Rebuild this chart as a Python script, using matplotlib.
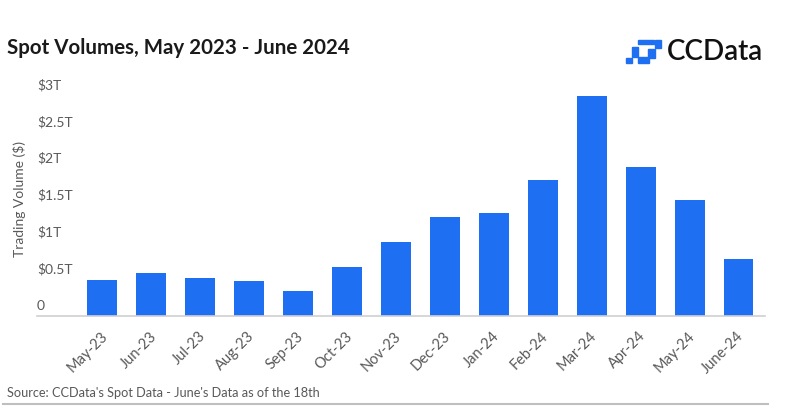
import numpy as np
import matplotlib.pyplot as plt
import matplotlib.transforms as mtransforms
from matplotlib.patches import Rectangle
from matplotlib.lines import Line2D

########################### Data ###############################

months      = ['May-23', 'Jun-23', 'Jul-23', 'Aug-23', 'Sep-23', 'Oct-23', 'Nov-23',
               'Dec-23', 'Jan-24', 'Feb-24', 'Mar-24', 'Apr-24', 'May-24', 'June-24']
volumes_T   = [0.49, 0.58, 0.52, 0.48, 0.34, 0.66, 1.01,
               1.35, 1.40, 1.84, 2.99, 2.02, 1.58, 0.78]      # Spot volume [trillion $]
ytick_vals  = [0, 0.5, 1, 1.5, 2, 2.5, 3]
ytick_text  = ['0', '$0.5T', '$1T', '$1.5T', '$2T', '$2.5T', '$3T']

########################### Style ###############################

W, H        = 802, 415
blue        = '#1F6FF2'
grey_txt    = '#595959'
plt.rcParams['font.family'] = ['Lato', 'DejaVu Sans']

def fx(px):
    return px / W

def fy(py):
    return 1 - py / H

########################### Plot ###############################

fig = plt.figure(figsize=(W / 100, H / 100), dpi=100)
ax_l, ax_r, ax_b, ax_t = 37, 765, 316, 80.2
ax = fig.add_axes([fx(ax_l), fy(ax_b), fx(ax_r - ax_l), (ax_b - ax_t) / H])

x = np.arange(len(months))
ax.bar(x, volumes_T, width=0.61, color=blue, zorder=2)
ax.set_xlim(-1.335, 13.54)
ax.set_ylim(0, 3.2)

for side in ['top', 'right', 'left']:
    ax.spines[side].set_visible(False)
ax.spines['bottom'].set_color('#d0d0d0')
ax.spines['bottom'].set_linewidth(1.2)

ax.set_yticks([])
ax.set_xticks(x)
ax.set_xticklabels(months, rotation=45, ha='right', va='center',
                   rotation_mode='anchor', fontsize=10.5, color=grey_txt)
ax.tick_params(axis='x', length=0, pad=13)
shift = mtransforms.ScaledTranslation(3 / 100, 0, fig.dpi_scale_trans)
for lab in ax.get_xticklabels():
    lab.set_transform(lab.get_transform() + shift)

# y labels: left aligned inside the plot area, a little above their value
up = mtransforms.ScaledTranslation(0, 10 / 100, fig.dpi_scale_trans)
for v, t in zip(ytick_vals, ytick_text):
    ax.text(0, v, t, transform=ax.get_yaxis_transform() + up,
            ha='left', va='center', fontsize=10, color=grey_txt)

fig.text(fx(20), fy(199), 'Trading Volume ($)', rotation=90, ha='center', va='center',
         fontsize=10, color=grey_txt)

fig.text(fx(7), fy(48), 'Spot Volumes, May 2023 - June 2024', ha='left', va='center',
         fontsize=14.8, fontweight='bold', color='#1a1a1a')

# logo
logo_px = [(638, 40, 16, 4), (655, 40, 6, 8), (632, 47, 6, 10), (648, 49, 7, 9),
           (638, 57, 11, 6), (626, 58, 6, 5)]
for (lx, ly, lw, lh) in logo_px:
    fig.patches.append(Rectangle((fx(lx), fy(ly + lh)), fx(lw), lh / H,
                                 transform=fig.transFigure, color=blue))
fig.text(fx(667), fy(51.5), 'CCData', ha='left', va='center', fontsize=20,
         fontweight='semibold', color='#111111')

fig.text(fx(7), fy(393), "Source: CCData's Spot Data - June's Data as of the 18th",
         ha='left', va='center', fontsize=9.2, color=grey_txt)
fig.lines.append(Line2D([fx(3), fx(768)], [fy(403.5), fy(403.5)],
                        transform=fig.transFigure, color='#bfbfbf', lw=1.5))

plt.savefig('out.png', dpi=100)
